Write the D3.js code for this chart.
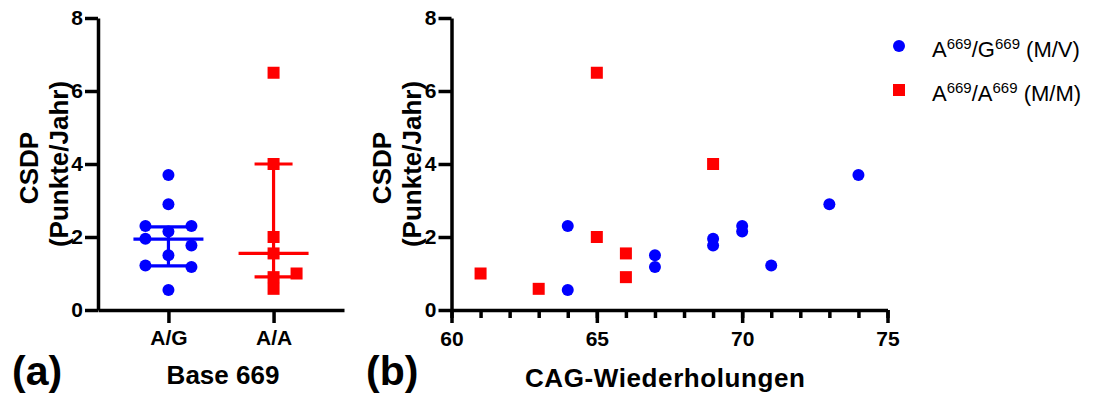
<!DOCTYPE html>
<html>
<head>
<meta charset="utf-8">
<script src="https://cdn.jsdelivr.net/npm/d3@7"></script>
<style>
  body { margin: 0; background: #fff; }
  svg text { font-family: "Liberation Sans", Arial, Helvetica, sans-serif; }
</style>
</head>
<body>
<div id="chart"></div>
<script>
var width = 1101;
var height = 397;

// panel (a): genotype groups
var groups = ["A/G", "A/A"];
var agValues  = [3.7, 2.9, 2.3, 2.3, 2.15, 1.95, 1.77, 1.5, 1.22, 1.18, 0.55];
var agColumns = [0, 0, -1, 1, 0, -1, 1, 0, -1, 1, 0];
var aaValues  = [6.5, 4.0, 2.0, 1.55, 1.0, 0.9, 0.58];
var aaColumns = [0, 0, 0, 0, 1, 0, 0];
// median, q1, q3
var agSummary = [1.94, 1.21, 2.28];
var aaSummary = [1.55, 0.91, 4.0];

// panel (b): CAG repeats for the same patients
var agCag = [74, 73, 64, 70, 70, 69, 69, 67, 71, 67, 64];
var aaCag = [65, 69, 65, 66, 61, 66, 63];

var yTicks = [0, 2, 4, 6, 8];
var xMajor = [60, 65, 70, 75];

var blue = "#0000ff";
var red  = "#ff0000";

var svg = d3.select("#chart").append("svg")
  .attr("width", width)
  .attr("height", height);
svg.append("rect").attr("width", width).attr("height", height).attr("fill", "#fff");

var y = d3.scaleLinear().domain([0, 8]).range([310, 18]);
var xa = d3.scalePoint().domain(groups).range([98, 344]).padding(0.67);
var xb = d3.scaleLinear().domain([60, 75]).range([451.5, 887.5]);
var jitter = 23;

function styleAxis(g, size) {
  g.selectAll("path.domain").attr("stroke", "#000").attr("stroke-width", 3.5);
  g.selectAll(".tick line").attr("stroke", "#000").attr("stroke-width", 3.5);
  g.selectAll(".tick text")
    .attr("fill", "#000")
    .style("font-family", "'Liberation Sans', Arial, sans-serif")
    .style("font-weight", "bold")
    .style("font-size", size + "px");
}

function yAxis(x0) {
  var g = svg.append("g")
    .attr("transform", "translate(" + x0 + ",0)")
    .call(d3.axisLeft(y).tickValues(yTicks).tickSize(13).tickSizeOuter(0).tickPadding(2));
  styleAxis(g, 21);
}

function yTitle(xc, xp) {
  svg.append("text")
    .attr("transform", "translate(" + xc + ",168) rotate(-90)")
    .attr("text-anchor", "middle")
    .style("font-weight", "bold").style("font-size", "26px")
    .text("CSDP");
  svg.append("text")
    .attr("transform", "translate(" + xp + ",164) rotate(-90)")
    .attr("text-anchor", "middle")
    .style("font-weight", "bold").style("font-size", "26px")
    .text("(Punkte/Jahr)");
}

// ---------- panel (a) ----------
var gxa = svg.append("g")
  .attr("transform", "translate(0,310)")
  .call(d3.axisBottom(xa).tickSize(13).tickSizeOuter(0).tickPadding(7));
styleAxis(gxa, 21);
yAxis(98);
yTitle(38, 68);

function summary(group, s, color, capHalf) {
  var cx = xa(group);
  var g = svg.append("g").attr("stroke", color).attr("stroke-width", 3.2);
  g.append("line").attr("x1", cx).attr("x2", cx).attr("y1", y(s[1])).attr("y2", y(s[2]));
  g.append("line").attr("x1", cx - 35).attr("x2", cx + 35).attr("y1", y(s[0])).attr("y2", y(s[0]));
  g.append("line").attr("x1", cx - capHalf).attr("x2", cx + capHalf).attr("y1", y(s[1])).attr("y2", y(s[1]));
  g.append("line").attr("x1", cx - capHalf).attr("x2", cx + capHalf).attr("y1", y(s[2])).attr("y2", y(s[2]));
}
summary("A/G", agSummary, blue, 22);
summary("A/A", aaSummary, red, 19);

svg.append("g").selectAll("circle")
  .data(agValues)
  .join("circle")
  .attr("cx", function(d, i) { return xa("A/G") + agColumns[i] * jitter; })
  .attr("cy", function(d) { return y(d); })
  .attr("r", 6)
  .attr("fill", blue);

svg.append("g").selectAll("rect")
  .data(aaValues)
  .join("rect")
  .attr("x", function(d, i) { return xa("A/A") + aaColumns[i] * jitter - 6; })
  .attr("y", function(d) { return y(d) - 6; })
  .attr("width", 12).attr("height", 12)
  .attr("fill", red);

svg.append("text").attr("x", 223).attr("y", 384).attr("text-anchor", "middle")
  .style("font-weight", "bold").style("font-size", "26px").text("Base 669");
svg.append("text").attr("x", 12).attr("y", 385)
  .style("font-weight", "bold").style("font-size", "41px").text("(a)");

// ---------- panel (b) ----------
var minor = svg.append("g")
  .attr("transform", "translate(0,310)")
  .call(d3.axisBottom(xb).tickValues(d3.range(60, 76)).tickSize(8).tickSizeOuter(0).tickFormat(""));
styleAxis(minor, 21);
var gxb = svg.append("g")
  .attr("transform", "translate(0,310)")
  .call(d3.axisBottom(xb).tickValues(xMajor).tickSize(13).tickSizeOuter(0).tickPadding(8));
styleAxis(gxb, 21);
gxb.select("path.domain").remove();
yAxis(451.5);
yTitle(391, 421);

svg.append("g").selectAll("circle")
  .data(agValues)
  .join("circle")
  .attr("cx", function(d, i) { return xb(agCag[i]); })
  .attr("cy", function(d) { return y(d); })
  .attr("r", 6)
  .attr("fill", blue);

svg.append("g").selectAll("rect")
  .data(aaValues)
  .join("rect")
  .attr("x", function(d, i) { return xb(aaCag[i]) - 6; })
  .attr("y", function(d) { return y(d) - 6; })
  .attr("width", 12).attr("height", 12)
  .attr("fill", red);

svg.append("text").attr("x", 665).attr("y", 387).attr("text-anchor", "middle")
  .attr("textLength", 280)
  .style("font-weight", "bold").style("font-size", "26px").text("CAG-Wiederholungen");
svg.append("text").attr("x", 366).attr("y", 385)
  .style("font-weight", "bold").style("font-size", "41px").text("(b)");

// legend
var legend = [
  { base: "G", label: " (M/V)", color: blue, shape: "circle", y: 46 },
  { base: "A", label: " (M/M)", color: red, shape: "square", y: 90 }
];
legend.forEach(function(l) {
  if (l.shape === "circle") {
    svg.append("circle").attr("cx", 899).attr("cy", l.y).attr("r", 6).attr("fill", l.color);
  } else {
    svg.append("rect").attr("x", 893).attr("y", l.y - 6).attr("width", 12).attr("height", 12).attr("fill", l.color);
  }
  var t = svg.append("text").attr("x", 932).attr("y", l.y + 11)
    .style("font-size", "22px").attr("fill", "#000");
  t.append("tspan").text("A");
  t.append("tspan").attr("dy", -8).style("font-size", "15px").text("669");
  t.append("tspan").attr("dy", 8).text("/" + l.base);
  t.append("tspan").attr("dy", -8).style("font-size", "15px").text("669");
  t.append("tspan").attr("dy", 8).text(l.label);
});
</script>
</body>
</html>
